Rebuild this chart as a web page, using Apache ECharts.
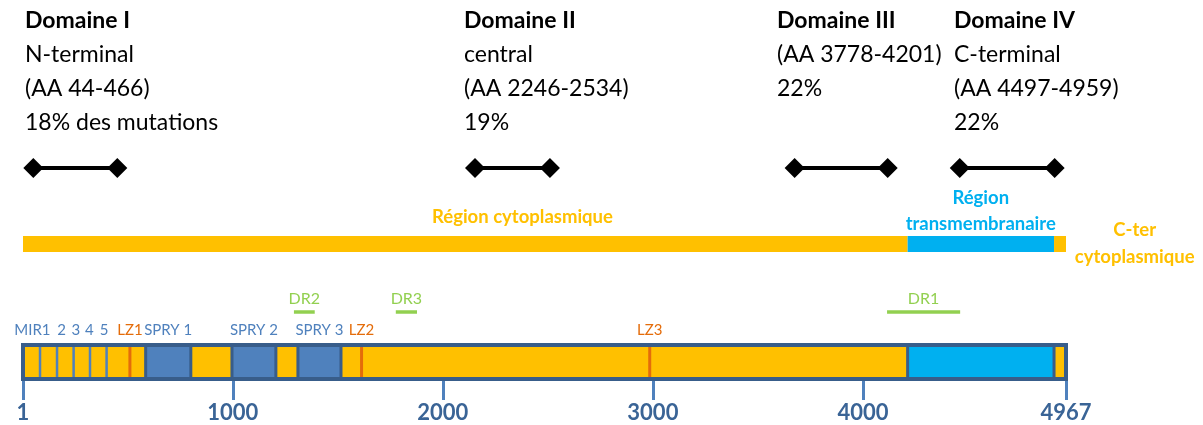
<!DOCTYPE html>
<html><head><meta charset="utf-8">
<script src="https://cdn.jsdelivr.net/npm/echarts@6/dist/echarts.min.js"></script>
<style>html,body{margin:0;padding:0;background:#fff}#c{width:1203px;height:425px}</style>
</head><body><div id="c"></div>
<script>
// ---- data ----
const aaMin = 1, aaMax = 4967;
const tickValues = [1, 1000, 2000, 3000, 4000, 4967];

const domainNames = ['Domaine I', 'Domaine II', 'Domaine III', 'Domaine IV'];
const domainTexts = [
  ['N-terminal', '(AA 44-466)', '18% des mutations'],
  ['central', '(AA 2246-2534)', '19%'],
  ['(AA 3778-4201)', '22%'],
  ['C-terminal', '(AA 4497-4959)', '22%']
];
const domainStarts = [50, 2153, 3675, 4461];
const domainEnds = [450, 2510, 4118, 4913];

const regionNames = [['Région cytoplasmique'], ['Région', 'transmembranaire'], ['C-ter', 'cytoplasmique']];
const regionStarts = [1, 4213, 4910];
const regionEnds = [4213, 4910, 4967];
const regionLabelPos = [2379, 4561, 5294];

const spryNames = ['SPRY 1', 'SPRY 2', 'SPRY 3'];
const spryStarts = [585, 996, 1310];
const spryEnds = [800, 1205, 1515];
const tmStart = 4213, tmEnd = 4910;
const mirDividers = [82, 163, 242, 320, 399];
const mirLabels = ['MIR1', '2', '3', '4', '5'];
const mirLabelPos = [46, 185, 253, 317, 387];
const lzNames = ['LZ1', 'LZ2', 'LZ3'];
const lzPos = [510, 1613, 2985];
const drNames = ['DR2', 'DR3', 'DR1'];
const drStarts = [1291, 1776, 4115];
const drEnds = [1390, 1877, 4463];

// ---- styles ----
const YELLOW = '#FFC000', TMBLUE = '#00B0F0', SBLUE = '#4F81BD', NAVY = '#385D8A', ORANGE = '#E46C0A', GREEN = '#92D050';
const FONT = 'Lato, "Open Sans", sans-serif';
const regionColors = [YELLOW, TMBLUE, YELLOW];

const chart = echarts.init(document.getElementById('c'), null, {renderer: 'canvas'});

const gridLeft = 23, gridRight = 1203 - 1066;
const hiddenX = i => ({type: 'value', gridIndex: i, min: aaMin, max: aaMax, show: false});
const hiddenY = (i, mn, mx) => ({type: 'value', gridIndex: i, min: mn, max: mx, show: false});

function rectItem(api, s, e, style) {
  const p0 = api.coord([s, 1]), p1 = api.coord([e, 0]);
  return {type: 'rect', shape: {x: p0[0], y: p0[1], width: p1[0] - p0[0], height: p1[1] - p0[1]}, style: style};
}

const series = [];

// domain ranges
domainStarts.forEach((s, i) => {
  series.push({
    type: 'line', xAxisIndex: 0, yAxisIndex: 0,
    data: [[s, 0], [domainEnds[i], 0]],
    symbol: 'diamond', symbolSize: 20, showSymbol: true,
    lineStyle: {color: '#000', width: 4}, itemStyle: {color: '#000'},
    silent: true, animation: false
  });
});

// region bar
series.push({
  type: 'custom', xAxisIndex: 1, yAxisIndex: 1, animation: false, clip: false,
  data: regionStarts.map((s, i) => [s, regionEnds[i], 0]),
  encode: {x: [0, 1], y: 2},
  renderItem: (params, api) => {
    const i = params.dataIndex;
    const children = [rectItem(api, regionStarts[i], regionEnds[i], {fill: regionColors[i]})];
    const top = api.coord([regionLabelPos[i], 1]);
    const lines = regionNames[i];
    let ys;
    if (i === 0) ys = [top[1] - 19];
    else if (i === 1) ys = [top[1] - 38, top[1] - 12];
    else ys = [top[1] - 6, top[1] + 21];
    lines.forEach((t, k) => children.push({
      type: 'text', style: {text: t, x: top[0], y: ys[k], fill: i === 1 ? TMBLUE : YELLOW,
        font: 'bold 18.5px ' + FONT, align: 'center', verticalAlign: 'middle'}
    }));
    return {type: 'group', children: children};
  }
});

// protein bar
series.push({
  type: 'custom', xAxisIndex: 2, yAxisIndex: 2, animation: false, clip: false,
  data: [[aaMin, aaMax, 0]],
  encode: {x: [0, 1], y: 2},
  renderItem: (params, api) => {
    const children = [];
    children.push(rectItem(api, aaMin, aaMax, {fill: YELLOW}));
    spryStarts.forEach((s, i) => children.push(rectItem(api, s, spryEnds[i], {fill: SBLUE, stroke: NAVY, lineWidth: 3})));
    children.push(rectItem(api, tmStart, tmEnd, {fill: TMBLUE, stroke: NAVY, lineWidth: 3}));
    mirDividers.forEach(x => {
      const a = api.coord([x, 1]), b = api.coord([x, 0]);
      children.push({type: 'line', shape: {x1: a[0], y1: a[1] + 2, x2: b[0], y2: b[1] - 2}, style: {stroke: SBLUE, lineWidth: 2.5}});
    });
    lzPos.forEach(x => {
      const a = api.coord([x, 1]), b = api.coord([x, 0]);
      children.push({type: 'line', shape: {x1: a[0], y1: a[1] + 2, x2: b[0], y2: b[1] - 2}, style: {stroke: ORANGE, lineWidth: 3}});
    });
    children.push(rectItem(api, aaMin, aaMax, {fill: 'none', stroke: NAVY, lineWidth: 4}));
    // labels
    const lab = (t, x, dy, color, size) => {
      const p = api.coord([x, 1]);
      children.push({type: 'text', style: {text: t, x: p[0], y: p[1] + dy, fill: color,
        font: (size || 15) + 'px ' + FONT, align: 'center', verticalAlign: 'middle'}});
    };
    mirLabels.forEach((t, i) => lab(t, mirLabelPos[i], -15, SBLUE));
    spryNames.forEach((t, i) => lab(t, (spryStarts[i] + spryEnds[i]) / 2, -15, SBLUE));
    lzNames.forEach((t, i) => lab(t, lzPos[i], -15, ORANGE));
    drNames.forEach((t, i) => {
      lab(t, (drStarts[i] + drEnds[i]) / 2, -46, GREEN, 16);
      const a = api.coord([drStarts[i], 1]), b = api.coord([drEnds[i], 1]);
      children.push({type: 'line', shape: {x1: a[0], y1: a[1] - 33, x2: b[0], y2: b[1] - 33}, style: {stroke: GREEN, lineWidth: 3.5}});
    });
    return {type: 'group', children: children};
  }
});

// domain text blocks
const textLeft = [25, 464, 777, 954];
const graphics = [];
domainNames.forEach((n, i) => {
  const lines = [n].concat(domainTexts[i]);
  lines.forEach((t, k) => graphics.push({
    type: 'text', x: textLeft[i], y: 21 + k * 33.7, silent: true,
    style: {text: t, fill: '#000', font: (k === 0 ? 'bold ' : '') + '23px ' + FONT, verticalAlign: 'middle'}
  }));
});

chart.setOption({
  animation: false,
  backgroundColor: '#fff',
  grid: [
    {left: gridLeft, right: gridRight, top: 158, height: 20},
    {left: gridLeft, right: gridRight, top: 236, height: 16},
    {left: gridLeft, right: gridRight, top: 345, height: 34}
  ],
  xAxis: [hiddenX(0), hiddenX(1), {
    type: 'value', gridIndex: 2, min: aaMin, max: aaMax, position: 'bottom',
    axisLine: {show: false}, splitLine: {show: false},
    axisTick: {show: true, length: 21, customValues: tickValues, lineStyle: {color: SBLUE, width: 3}},
    axisLabel: {show: true, customValues: tickValues, margin: 23, color: '#3A6496',
      formatter: v => String(v),
      fontFamily: FONT, fontWeight: 'bold', fontSize: 22, showMinLabel: true, showMaxLabel: true, hideOverlap: false}
  }],
  yAxis: [hiddenY(0, -1, 1), hiddenY(1, 0, 1), hiddenY(2, 0, 1)],
  series: series,
  graphic: graphics
});
</script></body></html>
